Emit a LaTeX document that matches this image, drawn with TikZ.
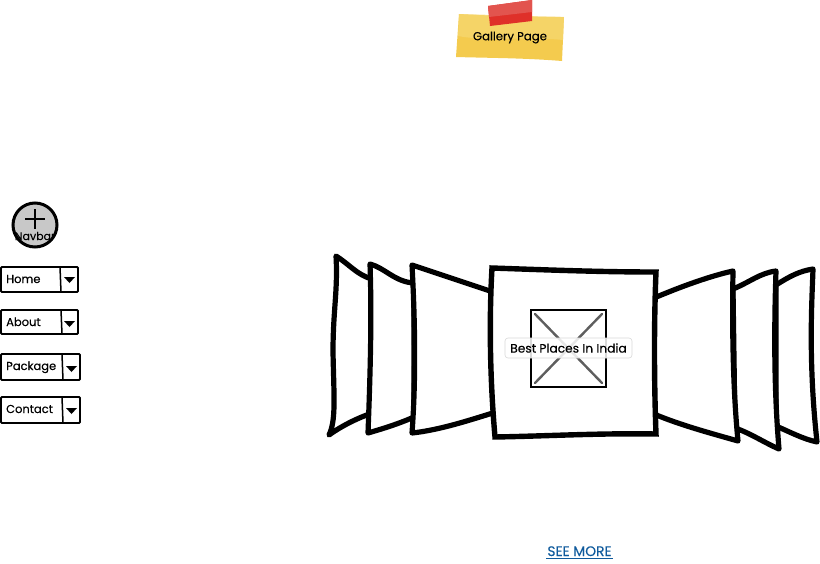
\documentclass[tikz,border=0pt]{standalone}
\usepackage{fontspec}
\setmainfont{Poppins}[FakeBold=0.25]
\definecolor{stickyY}{HTML}{F4CB4E}
\definecolor{stickyL}{HTML}{F6D873}
\definecolor{tapeR}{HTML}{DF3029}
\definecolor{tapeL}{HTML}{E2544E}
\definecolor{linkB}{HTML}{0F5A9C}
\definecolor{btnG}{HTML}{C8C8C8}
\definecolor{xG}{HTML}{5E5E5E}
\tikzset{
  panel/.style={draw=black,fill=white,line width=5.2pt,line join=round},
  dropbox/.style={draw=black,fill=white,line width=1.9pt,rounded corners=1pt},
  droptext/.style={font=\fontsize{11.5}{14}\selectfont,inner sep=0pt,anchor=base west,text=black},
  divider/.style={draw=black,line width=1.5pt},
  droparrow/.style={fill=black,draw=none},
}
\begin{document}
\begin{tikzpicture}[x=1pt,y=-1pt]
\useasboundingbox (0,0) rectangle (820,563);
% sticky
\fill[stickyY] (459,14) .. controls (495,16) and (530,17) .. (564,17) -- (562,61) .. controls (525,58) and (490,58) .. (456,57) -- cycle;
\fill[stickyL,opacity=.7] (459,14) -- (564,17) -- (563,40) .. controls (525,36) and (490,42) .. (458,36) -- cycle;
\fill[tapeR] (488,6) -- (532,0) -- (532,21) -- (490,26) -- cycle;
\fill[tapeL] (488,6) -- (532,0) -- (532,12) -- (489,17) -- cycle;
\node[font=\fontsize{11.7}{15}\selectfont,inner sep=0pt] (sticky) at (510,37.5) {Gallery Page};
% navbar button
\node[circle,draw=black,fill=btnG,line width=3pt,minimum size=44pt,inner sep=0pt] (plus) at (35,225) {};
\draw[line width=1.8pt] (35,209) -- (35,229);
\draw[line width=1.8pt] (25,219) -- (45,219);
\node[font=\fontsize{11}{14}\selectfont,inner sep=0pt,anchor=base] (navbar) at (35,240) {Navbar};
% dropdowns
\draw[dropbox] (1,267) rectangle (78,292);
\draw[divider] (60,267) -- (61,292);
\fill[droparrow] (64,277) -- (75,277) -- (69.5,283) -- cycle;
\node[droptext] (home) at (6,283) {Home};
\draw[dropbox] (1,310) rectangle (78,334);
\draw[divider] (61,310) -- (62,334);
\fill[droparrow] (64,321) -- (75,321) -- (69.5,327) -- cycle;
\node[droptext] (about) at (6,326) {About};
\draw[dropbox] (1,354) rectangle (80,380);
\draw[divider] (62,354) -- (63,380);
\fill[droparrow] (66,366) -- (77,366) -- (71.5,372) -- cycle;
\node[droptext] (package) at (6,370) {Package};
\draw[dropbox] (1,397) rectangle (80,423);
\draw[divider] (62,397) -- (63,423);
\fill[droparrow] (66,408) -- (77,408) -- (71.5,414) -- cycle;
\node[droptext] (contact) at (6,413) {Contact};
% left panels
\draw[panel] (336,256) .. controls (349,264) and (357,275) .. (372,279) -- (372,413) .. controls (358,418) and (343,425) .. (329,435) .. controls (336,420) and (334,400) .. (333,352) .. controls (333,310) and (338,290) .. (336,256) -- cycle;
\draw[panel] (370,264) .. controls (385,268) and (395,282) .. (414,283) -- (414,417) .. controls (398,424) and (385,428) .. (368,433) .. controls (370,380) and (372,320) .. (370,264) -- cycle;
\draw[panel] (412,265) -- (496,293) -- (496,412) .. controls (470,420) and (440,430) .. (412,433) .. controls (416,380) and (415,320) .. (412,265) -- cycle;
% right panels
\draw[panel] (776,285) .. controls (790,276) and (800,271) .. (813,269) .. controls (812,300) and (808,360) .. (817,442) .. controls (803,439) and (790,432) .. (776,426) -- cycle;
\draw[panel] (733,289) .. controls (750,282) and (760,273) .. (776,271) .. controls (774,330) and (774,390) .. (779,449) .. controls (765,443) and (750,433) .. (735,428) -- cycle;
\draw[panel] (654,298) .. controls (680,287) and (710,276) .. (733,271) .. controls (732,330) and (733,390) .. (738,441) .. controls (710,433) and (680,425) .. (654,414) -- cycle;
% centre panel
\draw[panel,line width=5.4pt,line join=miter] (492,268) .. controls (550,270) and (600,272) .. (656,272) .. controls (654,320) and (654,380) .. (656,434) .. controls (600,433) and (550,436) .. (495,437) .. controls (490,380) and (489,320) .. (492,268) -- cycle;
% image placeholder
\draw[draw=black,fill=white,line width=2.2pt] (531,310) rectangle (606,387);
\draw[xG,line width=2.4pt,line cap=round] (535,314) -- (602,383);
\draw[xG,line width=2.4pt,line cap=round] (602,314) -- (535,383);
\node[draw=black!15,fill=white,fill opacity=.85,text opacity=1,rounded corners=3pt,line width=.6pt,minimum width=127pt,minimum height=20pt,inner sep=0pt,font=\fontsize{12.2}{14}\selectfont] (caption) at (568.5,348) {Best Places In India};
% link
\node[text=linkB,font=\fontsize{13.8}{15}\selectfont,inner sep=0pt,anchor=base] (seemore) at (579.5,556) {SEE MORE};
\draw[linkB,line width=1pt] (546,558) -- (613,558);
\end{tikzpicture}
\end{document}
